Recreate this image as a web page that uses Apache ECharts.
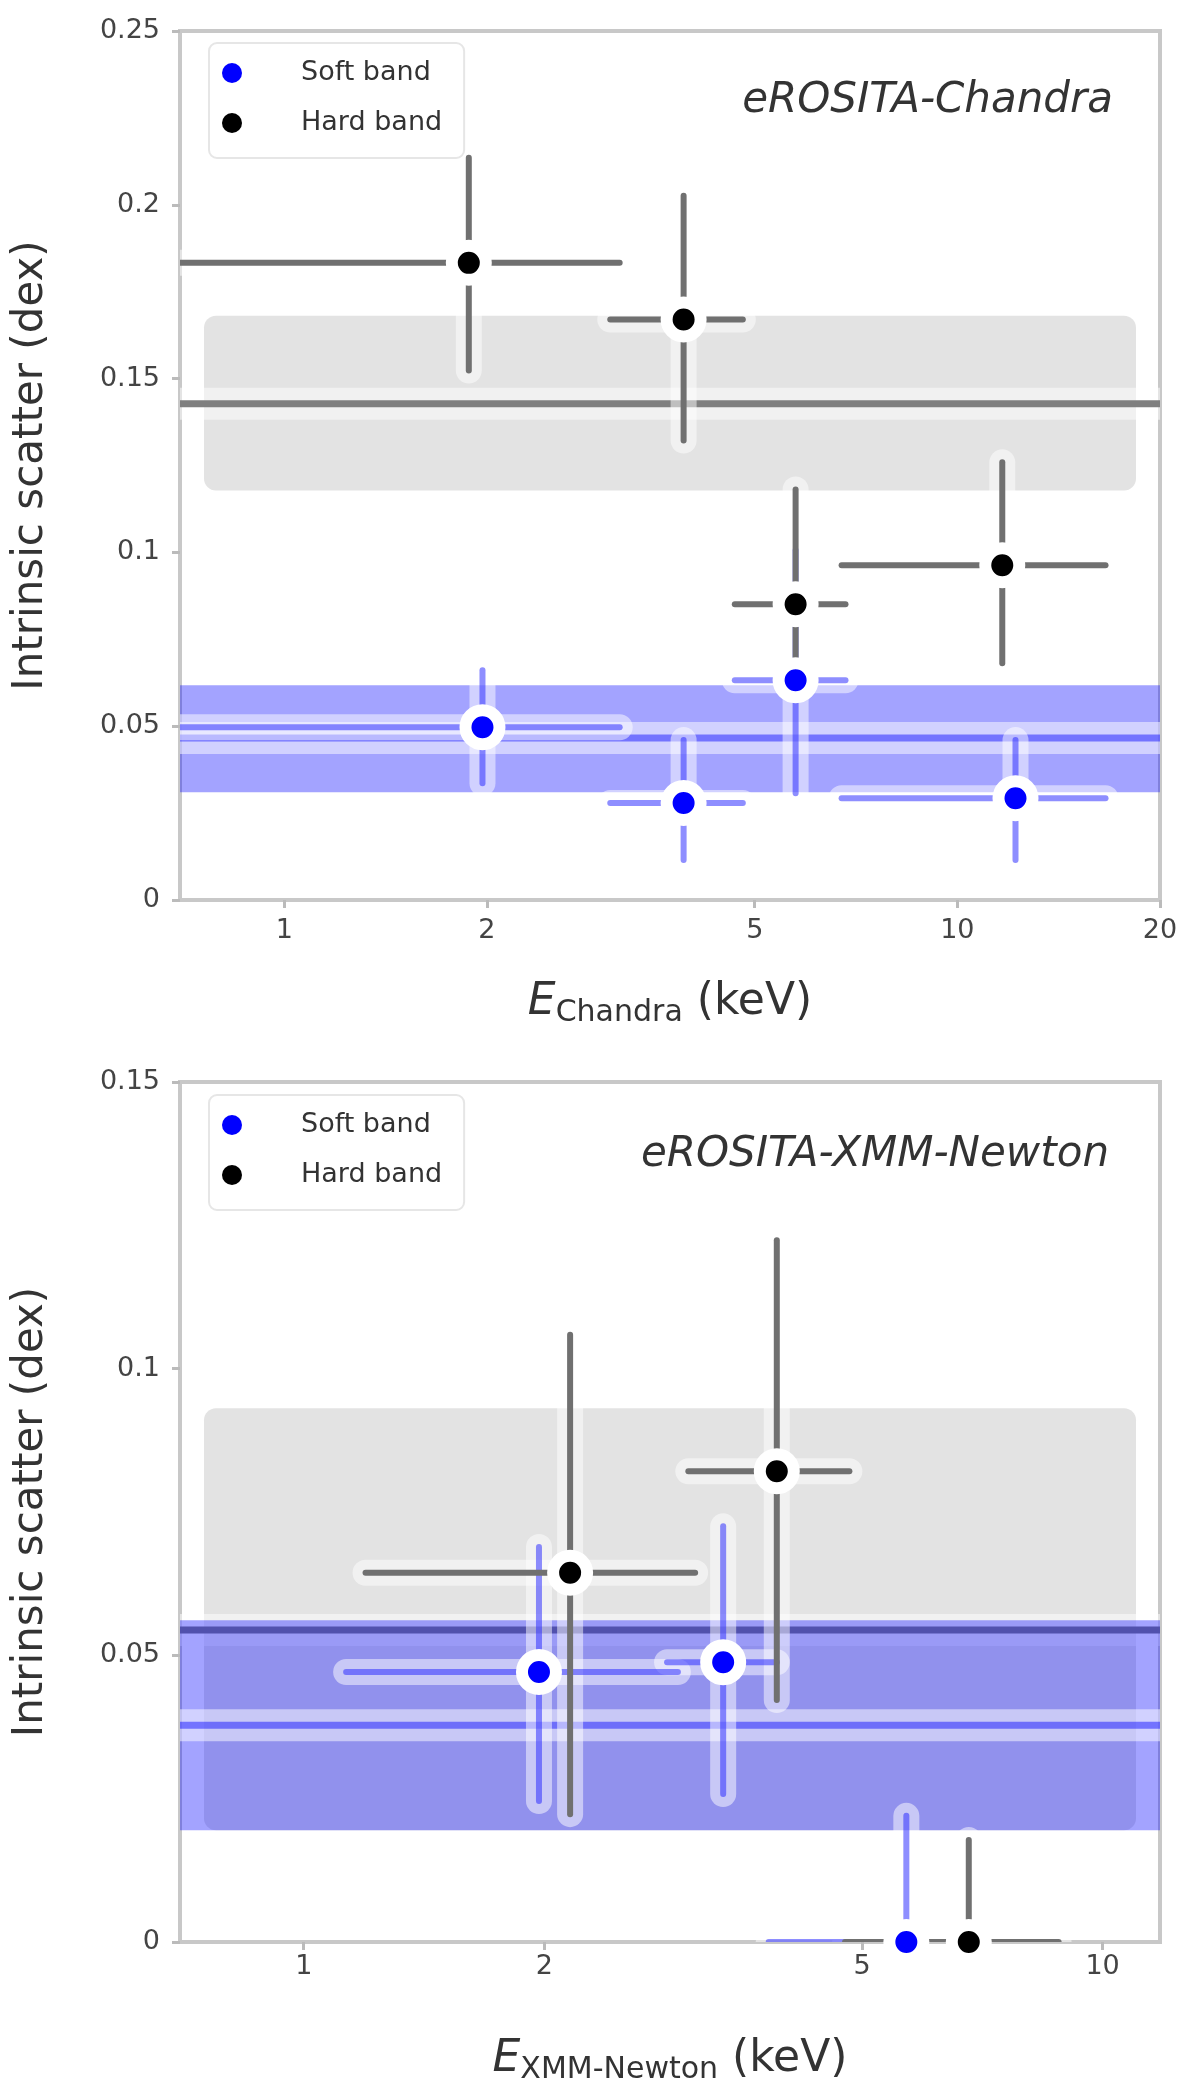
<!DOCTYPE html>
<html>
<head>
<meta charset="utf-8">
<script src="https://cdn.jsdelivr.net/npm/echarts@6/dist/echarts.min.js"></script>
<style>
  html, body { margin: 0; padding: 0; background: #fff; }
  #chart { width: 1200px; height: 2100px; }
</style>
</head>
<body>
<div id="chart"></div>
<script>
// points: [E, scatter, E_lo, E_hi, scatter_lo, scatter_hi]
const chandraSoft = [
  [1.97, 0.0497, 0.7, 3.15, 0.0336, 0.0661],
  [3.92, 0.0279, 3.05, 4.8, 0.0115, 0.046],
  [5.75, 0.0632, 4.67, 6.82, 0.0307, 0.1006],
  [12.2, 0.0293, 6.73, 16.6, 0.0115, 0.046],
];
const chandraHard = [
  [1.88, 0.1833, 0.7, 3.15, 0.1523, 0.2135],
  [3.92, 0.167, 3.05, 4.8, 0.1322, 0.2026],
  [5.75, 0.0851, 4.67, 6.82, 0.069, 0.1181],
  [11.66, 0.0963, 6.73, 16.6, 0.0681, 0.1259],
];
const xmmSoft = [
  [1.97, 0.0471, 1.13, 2.94, 0.0246, 0.0689],
  [3.35, 0.0488, 2.85, 3.91, 0.0258, 0.0725],
  [5.68, 0.0, 3.82, 7.55, 0.0, 0.022],
];
const xmmHard = [
  [2.155, 0.0644, 1.195, 3.09, 0.0223, 0.1059],
  [3.91, 0.0821, 3.03, 4.82, 0.0422, 0.1224],
  [6.8, 0.0, 4.76, 8.81, 0.0, 0.0178],
];
// mean scatter bands: [lo, mean, hi]
const chandraHardBand = [0.1178, 0.1428, 0.1681];
const chandraSoftBand = [0.031, 0.0466, 0.0618];
const xmmHardBand = [0.0195, 0.0544, 0.0931];
const xmmSoftBand = [0.0195, 0.0378, 0.0561];

const chandraTicks = [1, 2, 5, 10, 20];
const xmmTicks = [1, 2, 5, 10];

const FONT = 'DejaVu Sans';
const BLUE = '#0000ff';
const HALO = 'rgba(255,255,255,0.5)';

// gray band (hard) first, blue band (soft) on top
const bandStyles = [
  { fill: '#e3e3e3', line: '#7f7f7f', inset: 24 },
  { fill: 'rgba(0,0,255,0.36)', line: 'rgba(0,0,255,0.45)', inset: 0 },
];

function renderBand(params, api) {
  const cs = params.coordSys;
  const lo = api.coord([1, api.value(1)])[1];
  const mid = api.coord([1, api.value(2)])[1];
  const hi = api.coord([1, api.value(3)])[1];
  const st = bandStyles[params.dataIndex];
  return {
    type: 'group',
    children: [
      {
        type: 'rect',
        shape: { x: cs.x + st.inset, y: hi, width: cs.width - 2 * st.inset, height: lo - hi, r: st.inset ? 12 : 0 },
        style: { fill: st.fill },
      },
      {
        type: 'line',
        shape: { x1: cs.x, y1: mid, x2: cs.x + cs.width, y2: mid },
        style: { stroke: HALO, lineWidth: 32 },
      },
      {
        type: 'line',
        shape: { x1: cs.x, y1: mid, x2: cs.x + cs.width, y2: mid },
        style: { stroke: st.line, lineWidth: 7 },
      },
    ],
  };
}

function errSegments(api) {
  const l = api.coord([api.value(2), api.value(1)]);
  const r = api.coord([api.value(3), api.value(1)]);
  const b = api.coord([api.value(0), api.value(4)]);
  const t = api.coord([api.value(0), api.value(5)]);
  return [[l, r], [b, t]];
}

function renderHalo(params, api) {
  return {
    type: 'group',
    children: errSegments(api).map(s => ({
      type: 'line',
      shape: { x1: s[0][0], y1: s[0][1], x2: s[1][0], y2: s[1][1] },
      style: { stroke: HALO, lineWidth: 26, lineCap: 'round' },
    })),
  };
}

function barRenderer(color) {
  return function (params, api) {
    return {
      type: 'group',
      children: errSegments(api).map(s => ({
        type: 'line',
        shape: { x1: s[0][0], y1: s[0][1], x2: s[1][0], y2: s[1][1] },
        style: { stroke: color, lineWidth: 6, lineCap: 'round' },
      })),
    };
  };
}

// dot of radius 11 with a white ring cut out of the bars around it
const dotStyle = color => ({ color: color, opacity: 1, borderColor: '#fff', borderWidth: 12 });

function panelSeries(gi, soft, hard, softBand, hardBand) {
  const enc = { x: [0, 2, 3], y: [1, 4, 5] };
  return [
    {
      type: 'custom', xAxisIndex: gi, yAxisIndex: gi, z: 1, silent: true, clip: true,
      renderItem: renderBand,
      encode: { x: 0, y: [1, 2, 3] },
      data: [[1].concat(hardBand), [1].concat(softBand)],
    },
    {
      type: 'custom', xAxisIndex: gi, yAxisIndex: gi, z: 2, silent: true, clip: true,
      renderItem: renderHalo, encode: enc, data: soft.concat(hard),
    },
    {
      type: 'custom', xAxisIndex: gi, yAxisIndex: gi, z: 3, silent: true, clip: true,
      renderItem: barRenderer('rgba(30,30,255,0.5)'), encode: enc, data: soft,
    },
    {
      type: 'custom', xAxisIndex: gi, yAxisIndex: gi, z: 3, silent: true, clip: true,
      renderItem: barRenderer('#707070'), encode: enc, data: hard,
    },
    {
      name: 'Soft band', type: 'scatter', xAxisIndex: gi, yAxisIndex: gi, z: 4, clip: false,
      symbolSize: 34, itemStyle: dotStyle(BLUE),
      data: soft.map(d => [d[0], d[1]]),
    },
    {
      name: 'Hard band', type: 'scatter', xAxisIndex: gi, yAxisIndex: gi, z: 4, clip: false,
      symbolSize: 34, itemStyle: dotStyle('#000'),
      data: hard.map(d => [d[0], d[1]]),
    },
  ];
}

const nameRich = {
  e: { fontSize: 44, fontStyle: 'italic', color: '#333', lineHeight: 50, verticalAlign: 'middle' },
  s: { fontSize: 30, color: '#333', lineHeight: 20, verticalAlign: 'bottom' },
  n: { fontSize: 44, color: '#333', lineHeight: 50, verticalAlign: 'middle' },
};

function xAxisFor(gi, max, ticks, name, margin, gap) {
  return {
    type: 'log', logBase: 10, gridIndex: gi, min: 0.7, max: max,
    axisLine: { show: false },
    axisTick: { show: true, customValues: ticks, length: 8, lineStyle: { color: '#bbb', width: 3 } },
    axisLabel: {
      customValues: ticks, fontSize: 27, color: '#444', margin: margin, fontFamily: FONT,
      formatter: v => String(Math.round(v * 100) / 100),
    },
    splitLine: { show: false },
    name: name, nameLocation: 'middle', nameGap: gap,
    nameTextStyle: { fontFamily: FONT, rich: nameRich },
  };
}

function yAxisFor(gi, max) {
  return {
    type: 'value', gridIndex: gi, min: 0, max: max, interval: 0.05,
    axisLine: { show: false },
    axisTick: { show: true, length: 8, lineStyle: { color: '#bbb', width: 3 } },
    axisLabel: { fontSize: 27, color: '#444', margin: 20, fontFamily: FONT },
    splitLine: { show: false },
    name: 'Intrinsic scatter (dex)', nameLocation: 'middle', nameGap: 128,
    nameTextStyle: { fontSize: 42, color: '#333', fontFamily: FONT },
  };
}

function legendAt(top) {
  return {
    data: ['Soft band', 'Hard band'], orient: 'vertical', left: 209, top: top,
    icon: 'circle', itemWidth: 40, itemHeight: 20, itemGap: 20,
    itemStyle: { borderWidth: 0 },
    padding: [15, 22, 20, 13], borderColor: '#e6e6e6', borderWidth: 2, borderRadius: 8,
    backgroundColor: 'rgba(255,255,255,0.8)',
    textStyle: { fontSize: 27, color: '#333', lineHeight: 30, padding: [0, 0, 0, 44], fontFamily: FONT },
    selectedMode: false,
  };
}

const chart = echarts.init(document.getElementById('chart'), null, { renderer: 'canvas' });
chart.setOption({
  animation: false,
  backgroundColor: '#fff',
  textStyle: { fontFamily: FONT },
  title: [
    { text: 'eROSITA-Chandra', right: 87, top: 80, padding: 0,
      textStyle: { fontSize: 42, fontStyle: 'italic', fontWeight: 'normal', color: '#333', fontFamily: FONT } },
    { text: 'eROSITA-XMM-Newton', right: 91, top: 1134, padding: 0,
      textStyle: { fontSize: 42, fontStyle: 'italic', fontWeight: 'normal', color: '#333', fontFamily: FONT } },
  ],
  legend: [legendAt(43), legendAt(1095)],
  grid: [
    { left: 180, top: 31, width: 980, height: 869, show: true, borderColor: '#c8c8c8', borderWidth: 4 },
    { left: 180, top: 1082, width: 980, height: 860, show: true, borderColor: '#c8c8c8', borderWidth: 4 },
  ],
  xAxis: [
    xAxisFor(0, 20, chandraTicks, '{e|E}{s|Chandra}{n| (keV)}', 17, 78),
    xAxisFor(1, 11.8, xmmTicks, '{e|E}{s|XMM-Newton}{n| (keV)}', 11, 93),
  ],
  yAxis: [yAxisFor(0, 0.25), yAxisFor(1, 0.15)],
  series: panelSeries(0, chandraSoft, chandraHard, chandraSoftBand, chandraHardBand)
    .concat(panelSeries(1, xmmSoft, xmmHard, xmmSoftBand, xmmHardBand)),
});
window.addEventListener('resize', () => chart.resize());
</script>
</body>
</html>
